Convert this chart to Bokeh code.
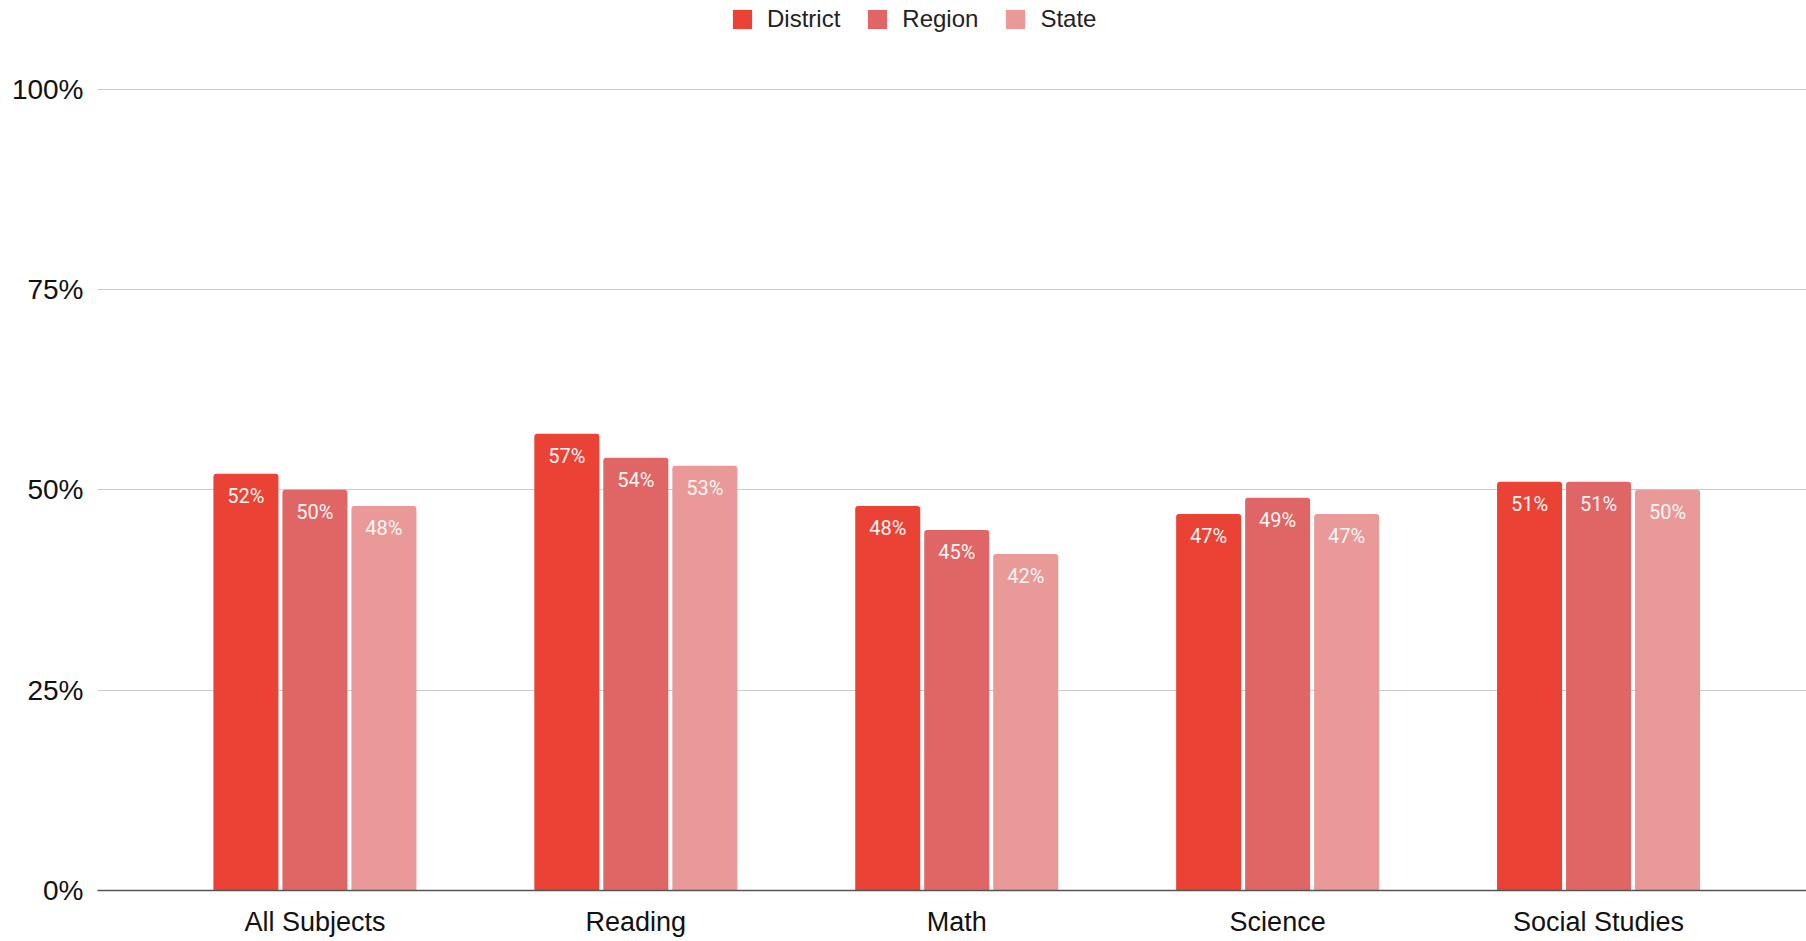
from bokeh.plotting import figure
from bokeh.models import ColumnDataSource, Legend, LegendItem, FixedTicker, Range1d
from bokeh.core.properties import value
from bokeh.embed import file_html
from bokeh.resources import INLINE

categories = ["All Subjects", "Reading", "Math", "Science", "Social Studies"]
series = ["District", "Region", "State"]
district = [52, 57, 48, 47, 51]
region = [50, 54, 45, 49, 51]
state = [48, 53, 42, 47, 50]
y_ticks = [0, 25, 50, 75, 100]
colors = ["#EA4335", "#E06666", "#EA9999"]

W, H = 1806, 941
p = figure(width=W, height=H, output_backend="svg", toolbar_location=None,
           x_range=Range1d(-0.6775, 4.648), y_range=Range1d(0, 111.07),
           min_border_left=97, min_border_right=0, min_border_top=0,
           min_border_bottom=51)
p.outline_line_color = None
p.background_fill_color = "white"
p.border_fill_color = "white"

xs = list(range(len(categories)))
offsets = [-0.215, 0.0, 0.215]
renderers = []
for vals, off, col, name in zip([district, region, state], offsets, colors, series):
    src = ColumnDataSource(dict(x=[i + off for i in xs], top=vals,
                                lab=[f"{v}%" for v in vals]))
    r = p.vbar(x="x", top="top", bottom=0, width=0.2026, source=src,
               fill_color=col, line_color=None, border_radius=(3, 3, 0, 0))
    p.text(x="x", y="top", text="lab", source=src, text_align="center",
           text_baseline="middle", y_offset=22, text_color="#FFF6F4",
           text_font=value("Roboto"), text_font_size="20px")
    renderers.append((name, r))

# axes
p.xaxis.ticker = FixedTicker(ticks=xs)
p.xaxis.major_label_overrides = {i: c for i, c in enumerate(categories)}
p.xaxis.major_tick_line_color = None
p.xaxis.minor_tick_line_color = None
p.xaxis.axis_line_color = "#555555"
p.xaxis.axis_line_width = 1.5
p.xaxis.major_label_text_font = "Liberation Sans"
p.xaxis.major_label_text_font_size = "27px"
p.xaxis.major_label_text_color = "#111111"
p.xaxis.major_label_standoff = 10

p.yaxis.ticker = FixedTicker(ticks=y_ticks)
p.yaxis.major_label_overrides = {t: f"{t}%" for t in y_ticks}
p.yaxis.axis_line_color = None
p.yaxis.major_tick_line_color = None
p.yaxis.minor_tick_line_color = None
p.yaxis.major_label_text_font = "Liberation Sans"
p.yaxis.major_label_text_font_size = "28px"
p.yaxis.major_label_text_color = "#111111"
p.yaxis.major_label_standoff = 8

p.xgrid.grid_line_color = None
p.ygrid.ticker = FixedTicker(ticks=[25, 50, 75, 100])
p.ygrid.grid_line_color = "#CCCCCC"
p.ygrid.grid_line_width = 1.2

legend = Legend(items=[LegendItem(label=n, renderers=[r]) for n, r in renderers],
                orientation="horizontal", location=(633, 857))
legend.border_line_color = None
legend.background_fill_alpha = 0
legend.padding = 0
legend.margin = 0
legend.glyph_width = 24
legend.glyph_height = 24
legend.label_standoff = 13
legend.spacing = 25
legend.label_text_font = "Liberation Sans"
legend.label_text_font_size = "24px"
legend.label_text_color = "#222222"
p.add_layout(legend)

open("out.html", "w").write(file_html(p, INLINE))
